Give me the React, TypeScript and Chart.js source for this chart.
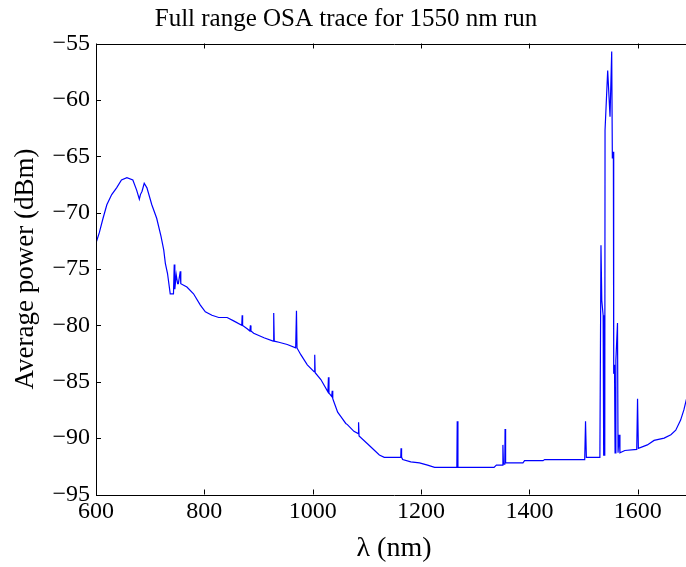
import React, { useEffect, useRef } from 'react';
import { Chart, registerables } from 'chart.js';

Chart.register(...registerables);

const TITLE = 'Full range OSA trace for 1550 nm run';
const X_TITLE = 'λ (nm)';
const Y_TITLE = 'Average power (dBm)';

// wavelength (nm)
const wavelength: number[] = [
  600, 606, 613, 620, 629, 638, 647, 657, 668, 675, 680, 682, 685, 689, 694,
  703, 712, 720, 725, 728, 732, 737, 743, 744.4, 745.5, 748, 750.6, 752, 755.5, 756.5,
  767.8, 780, 792.6, 801.8, 814, 826.5, 842, 854, 869, 869.8, 870.6, 879, 884, 885, 886,
  891, 910, 927, 928, 929, 937.6, 953, 968.5, 970, 971, 978, 990, 1002.4, 1003.7, 1004.5,
  1015, 1028, 1029, 1030, 1035, 1036, 1037, 1040, 1046, 1052, 1061, 1064, 1076, 1084, 1084.6,
  1085.5, 1101, 1123, 1132, 1162.5, 1163, 1164, 1166, 1181, 1197, 1212, 1225, 1266, 1266.7, 1268,
  1334.6, 1339, 1350.5, 1351, 1352, 1354.5, 1355, 1356, 1388, 1391, 1425, 1428, 1502, 1503.5, 1505,
  1530, 1532, 1533.5, 1536, 1537, 1539, 1539.5, 1544.4, 1548.7, 1551.8, 1553, 1554.9, 1555.5, 1557, 1558,
  1559.5, 1562.5, 1563.5, 1565.5, 1567, 1576, 1598, 1599.5, 1601, 1617.6, 1630, 1648.6, 1661, 1670, 1679,
  1685, 1690, 1700,
];

// average power (dBm)
const power: number[] = [
  -72.7, -71.8, -70.5, -69.3, -68.4, -67.8, -67.1, -66.9, -67.1, -68.0, -68.8, -68.4, -68.1, -67.4, -67.8,
  -69.3, -70.5, -72.1, -73.3, -74.5, -75.4, -77.2, -77.2, -74.6, -76.8, -75.5, -76.3, -76.3, -75.2, -76.3,
  -76.6, -77.2, -78.2, -78.8, -79.1, -79.3, -79.3, -79.6, -80.0, -79.1, -80.0, -80.3, -80.5, -80.0, -80.5,
  -80.7, -81.1, -81.4, -78.9, -81.4, -81.5, -81.7, -82.0, -78.7, -82.0, -82.6, -83.5, -84.1, -82.6, -84.2,
  -84.8, -85.9, -84.6, -86.0, -86.3, -85.8, -86.5, -86.9, -87.7, -88.1, -88.7, -88.8, -89.4, -89.6, -88.6,
  -89.8, -90.5, -91.5, -91.7, -91.7, -90.9, -91.7, -91.9, -92.1, -92.2, -92.4, -92.6, -92.6, -88.5, -92.6,
  -92.6, -92.4, -92.4, -90.6, -92.3, -92.3, -89.2, -92.2, -92.2, -92.0, -92.0, -91.9, -91.9, -88.5, -91.7,
  -91.7, -72.9, -77.8, -79.1, -91.5, -91.5, -62.7, -57.4, -61.5, -55.7, -65.2, -64.6, -84.3, -83.5, -91.3,
  -83.1, -79.8, -91.3, -89.7, -91.3, -91.1, -91.0, -86.5, -90.9, -90.6, -90.2, -90.0, -89.7, -89.3, -88.4,
  -87.5, -86.5, -84.8,
];

const X_MIN = 600;
const X_MAX = 1700;
const X_STEP = 200;
const Y_MIN = -95;
const Y_MAX = -55;
const Y_STEP = 5;

const FONT = 'Liberation Serif';

const boxPlugin = {
  id: 'matlabBox',
  afterDraw(chart: any) {
    const { ctx, chartArea, scales } = chart;
    const { left, right, top, bottom } = chartArea;
    ctx.save();
    ctx.strokeStyle = '#000';
    ctx.lineWidth = 1;
    ctx.beginPath();
    ctx.rect(Math.round(left) + 0.5, Math.round(top) + 0.5, Math.round(right - left), Math.round(bottom - top));
    ctx.stroke();
    const tl = 5;
    ctx.beginPath();
    scales.x.ticks.forEach((t: any) => {
      const px = Math.round(scales.x.getPixelForValue(t.value)) + 0.5;
      ctx.moveTo(px, bottom);
      ctx.lineTo(px, bottom - tl);
      ctx.moveTo(px, top);
      ctx.lineTo(px, top + tl);
    });
    scales.y.ticks.forEach((t: any) => {
      const py = Math.round(scales.y.getPixelForValue(t.value)) + 0.5;
      ctx.moveTo(left, py);
      ctx.lineTo(left + tl, py);
      ctx.moveTo(right, py);
      ctx.lineTo(right - tl, py);
    });
    ctx.stroke();
    ctx.restore();
  },
};

export default function App() {
  const ref = useRef<HTMLCanvasElement | null>(null);

  useEffect(() => {
    if (!ref.current) return;
    const data = wavelength.map((x, i) => ({ x, y: power[i] }));
    const chart = new Chart(ref.current, {
      type: 'line',
      data: {
        datasets: [
          {
            data,
            borderColor: '#0000ff',
            borderWidth: 1.2,
            pointRadius: 0,
            tension: 0,
            fill: false,
          },
        ],
      },
      options: {
        animation: false,
        responsive: false,
        maintainAspectRatio: false,
        layout: { padding: 0 },
        plugins: {
          legend: { display: false },
          tooltip: { enabled: false },
          title: {
            display: true,
            text: TITLE,
            color: '#000',
            font: { family: FONT, size: 25, weight: 'normal', lineHeight: 1.2 },
            padding: { top: 4, bottom: 9.5 },
          },
        },
        scales: {
          x: {
            type: 'linear',
            min: X_MIN,
            max: X_MAX,
            grid: { display: false, drawTicks: false },
            border: { display: false },
            ticks: {
              stepSize: X_STEP,
              includeBounds: false,
              color: '#000',
              font: { family: FONT, size: 24 },
              padding: 3,
              maxRotation: 0,
              callback: (v: any) => String(v),
            },
            title: {
              display: true,
              text: X_TITLE,
              color: '#000',
              font: { family: FONT, size: 28, lineHeight: 1.2 },
              padding: { top: 0, bottom: 2 },
            },
            afterFit: (s: any) => {
              s.height = 72.5;
            },
          },
          y: {
            type: 'linear',
            min: Y_MIN,
            max: Y_MAX,
            grid: { display: false, drawTicks: false },
            border: { display: false },
            ticks: {
              stepSize: Y_STEP,
              color: '#000',
              font: { family: FONT, size: 24 },
              padding: 6,
              callback: (v: any) => (v < 0 ? '\u2212' : '') + Math.abs(v),
            },
            title: {
              display: true,
              text: Y_TITLE,
              color: '#000',
              font: { family: FONT, size: 27, lineHeight: 1.2 },
              padding: { top: 9.8, bottom: 0 },
            },
            afterFit: (s: any) => {
              s.width = 96;
            },
          },
        },
      },
      plugins: [boxPlugin],
    });
    return () => chart.destroy();
  }, []);

  return (
    <div
      style={{
        position: 'fixed',
        left: 0,
        top: 0,
        width: 686,
        height: 567,
        overflow: 'hidden',
        background: '#fff',
      }}
    >
      <canvas ref={ref} width={692} height={567} style={{ display: 'block', width: 692, height: 567 }} />
    </div>
  );
}
